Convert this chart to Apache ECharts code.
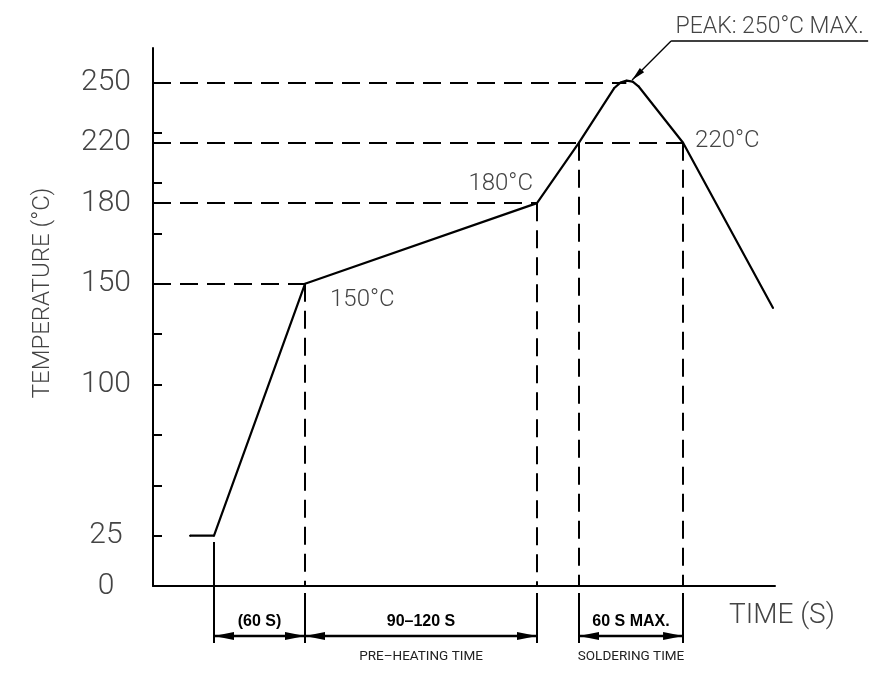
<!DOCTYPE html>
<html><head><meta charset="utf-8">
<script src="https://cdn.jsdelivr.net/npm/echarts@6/dist/echarts.min.js"></script>
<style>html,body{margin:0;padding:0;background:#fff}#c{width:874px;height:675px}</style>
</head><body><div id="c"></div>
<script>
// ---------------- data ----------------
const profileTime = [24.4, 40.2, 100.2, 253.1, 280.8, 303.9, 308.1, 312.2, 316.2, 320, 349.4, 408.7];
const profileTemp = [25, 25, 150, 190, 220, 247, 249.8, 250.8, 250.3, 248, 220, 138];
const pointLabelIndex = [2, 3, 10];
const pointLabelText = ['150°C', '180°C', '220°C'];

const tempTickValues = [25, 50, 75, 100, 125, 150, 175, 200, 225, 250];
const tempLabelValues = [0, 25, 100, 150, 190, 220, 250];
const tempLabelTexts = ['0', '25', '100', '150', '180', '220', '250'];

const guideLevels = [150, 190, 220, 250];
const guideEndTime = [100.2, 253.1, 349.4, 312];
const dropTimes = [100.2, 253.1, 280.8, 349.4];
const dropTemps = [150, 190, 220, 220];

const spanStart = [40.2, 100.2, 280.8];
const spanEnd = [100.2, 253.1, 349.4];
const spanLabels = ['(60 S)', '90–120 S', '60 S MAX.'];
const spanNotes = ['', 'PRE–HEATING TIME', 'SOLDERING TIME'];
const extTimes = [40.2, 100.2, 253.1, 280.8, 349.4];
const extTop = [21.8, -3.5, -3.5, -3.5, -3.5];

const peakNote = 'PEAK: 250°C MAX.';
const peakLeader = [[315.8, 251.1], [341.5, 270.5], [471.4, 270.5]];

// ---------------- layout ----------------
const W = 874, H = 675;
const G = { left: 153, top: 48, right: 99, bottom: 89 };
const xMax = 410, yMax = 267;
const ux = (W - G.left - G.right) / xMax, uy = (H - G.top - G.bottom) / yMax;
const ovX = [-G.left / ux, (W - G.left) / ux];
const ovY = [-G.bottom / uy, (H - G.bottom) / uy];
const dimBottom = -28.3, dimArrow = -24.8;

const THIN = "Roboto, 'DejaVu Sans Condensed', sans-serif";
const BOLD = "'Liberation Sans', Arial, sans-serif";
const GREY = '#444';
const LW = 300;

const labelPlacement = [
  { position: 'right', offset: [24, 16] },
  { position: 'left', offset: [-3, -19] },
  { position: 'right', offset: [11, -2] }
];

const profileData = profileTime.map((t, i) => {
  const k = pointLabelIndex.indexOf(i);
  const item = { value: [t, profileTemp[i]] };
  if (k >= 0) {
    item.label = {
      show: true, formatter: pointLabelText[k], distance: 0,
      position: labelPlacement[k].position, offset: labelPlacement[k].offset,
      fontFamily: THIN, fontWeight: LW, fontSize: 24, color: GREY
    };
  }
  return item;
});

const chart = echarts.init(document.getElementById('c'), null, { renderer: 'canvas' });
const dummy = [[ovX[0], ovY[0]]];
const solid = { color: '#000', width: 2, type: 'solid' };

chart.setOption({
  animation: false,
  backgroundColor: '#fff',
  grid: [
    { left: G.left, top: G.top, right: G.right, bottom: G.bottom, containLabel: false },
    { left: 0, top: 0, right: 0, bottom: 0, containLabel: false }
  ],
  xAxis: [
    {
      type: 'value', gridIndex: 0, min: 0, max: xMax,
      axisLine: { show: true, onZero: true, lineStyle: { color: '#000', width: 2 } },
      axisTick: { show: false }, axisLabel: { show: false }, splitLine: { show: false },
      name: 'TIME (S)', nameLocation: 'end', nameGap: -46,
      nameTextStyle: { fontFamily: THIN, fontWeight: LW, fontSize: 28, color: GREY, align: 'left', verticalAlign: 'top', lineHeight: 60 }
    },
    { type: 'value', gridIndex: 1, min: ovX[0], max: ovX[1], show: false }
  ],
  yAxis: [
    {
      type: 'value', gridIndex: 0, min: 0, max: yMax,
      axisLine: { show: true, lineStyle: { color: '#000', width: 2 } },
      axisTick: { show: true, inside: true, length: 9, lineStyle: { color: '#000', width: 2 }, customValues: tempTickValues },
      axisLabel: {
        show: true, customValues: tempLabelValues,
        formatter: v => tempLabelTexts[tempLabelValues.indexOf(v)],
        margin: 47, align: 'center', fontFamily: THIN, fontWeight: LW, fontSize: 30, color: GREY
      },
      splitLine: { show: false },
      name: 'TEMPERATURE (°C)', nameLocation: 'middle', nameGap: 98, nameRotate: 90,
      nameTextStyle: { fontFamily: THIN, fontWeight: LW, fontSize: 24, color: GREY, padding: [0, 0, 0, 48] }
    },
    { type: 'value', gridIndex: 1, min: ovY[0], max: ovY[1], show: false }
  ],
  series: [
    {
      type: 'line', xAxisIndex: 0, yAxisIndex: 0, data: profileData,
      symbol: 'circle', symbolSize: 2, showSymbol: true, itemStyle: { color: '#000' },
      lineStyle: { color: '#000', width: 2.2 }, clip: false, silent: true, emphasis: { disabled: true },
      markLine: {
        silent: true, symbol: 'none', label: { show: false }, emphasis: { disabled: true },
        lineStyle: { color: '#000', width: 2, type: [18, 9] },
        data: [
          ...guideLevels.map((v, i) => [{ coord: [0, v] }, { coord: [guideEndTime[i], v] }]),
          ...dropTimes.map((t, i) => [{ coord: [t, dropTemps[i]] }, { coord: [t, 0] }])
        ]
      }
    },
    {
      type: 'line', xAxisIndex: 1, yAxisIndex: 1, data: dummy, symbol: 'none', silent: true,
      lineStyle: { width: 0 },
      markLine: {
        silent: true, symbol: 'none', label: { show: false }, emphasis: { disabled: true },
        lineStyle: solid,
        data: extTimes.map((t, i) => [{ coord: [t, extTop[i]] }, { coord: [t, dimBottom] }])
      }
    },
    {
      type: 'line', xAxisIndex: 1, yAxisIndex: 1, data: dummy, symbol: 'none', silent: true,
      lineStyle: { width: 0 },
      markLine: {
        silent: true, symbol: ['triangle', 'triangle'], symbolSize: [8, 20],
        symbolOffset: [[0, 10], [0, 10]], emphasis: { disabled: true },
        lineStyle: { color: '#000', width: 2.4, type: 'solid' },
        label: { show: true, position: 'insideMiddleTop', distance: 6, fontFamily: BOLD, fontWeight: 'bold', fontSize: 16, color: '#000' },
        data: spanStart.map((s, i) => [{ coord: [s, dimArrow], label: { formatter: spanLabels[i] } }, { coord: [spanEnd[i], dimArrow] }])
      }
    },
    {
      type: 'line', xAxisIndex: 1, yAxisIndex: 1, data: dummy, symbol: 'none', silent: true,
      lineStyle: { width: 0 },
      markLine: {
        silent: true, symbol: 'none', emphasis: { disabled: true },
        lineStyle: { color: 'rgba(0,0,0,0)', width: 0 },
        label: { show: true, position: 'insideMiddleBottom', distance: 14, fontFamily: THIN, fontSize: 13.5, color: '#222' },
        data: spanStart.map((s, i) => [{ coord: [s, dimArrow], label: { formatter: spanNotes[i] } }, { coord: [spanEnd[i], dimArrow] }])
      }
    },
    {
      type: 'line', xAxisIndex: 1, yAxisIndex: 1, data: dummy, symbol: 'none', silent: true,
      lineStyle: { width: 0 },
      markLine: {
        silent: true, symbol: ['triangle', 'none'], symbolSize: [6, 14],
        symbolOffset: [[0, 7], [0, 0]], emphasis: { disabled: true },
        lineStyle: { color: '#000', width: 1.3, type: 'solid' },
        label: { show: false },
        data: [[{ coord: peakLeader[0] }, { coord: peakLeader[1] }]]
      }
    },
    {
      type: 'line', xAxisIndex: 1, yAxisIndex: 1, data: dummy, symbol: 'none', silent: true,
      lineStyle: { width: 0 },
      markLine: {
        silent: true, symbol: 'none', emphasis: { disabled: true },
        lineStyle: { color: '#000', width: 1.5, type: 'solid' },
        label: { show: true, position: 'insideMiddleTop', distance: 2, formatter: peakNote, fontFamily: THIN, fontWeight: LW, fontSize: 23, color: GREY },
        data: [[{ coord: peakLeader[1] }, { coord: peakLeader[2] }]]
      }
    }
  ]
});
</script>
</body></html>
